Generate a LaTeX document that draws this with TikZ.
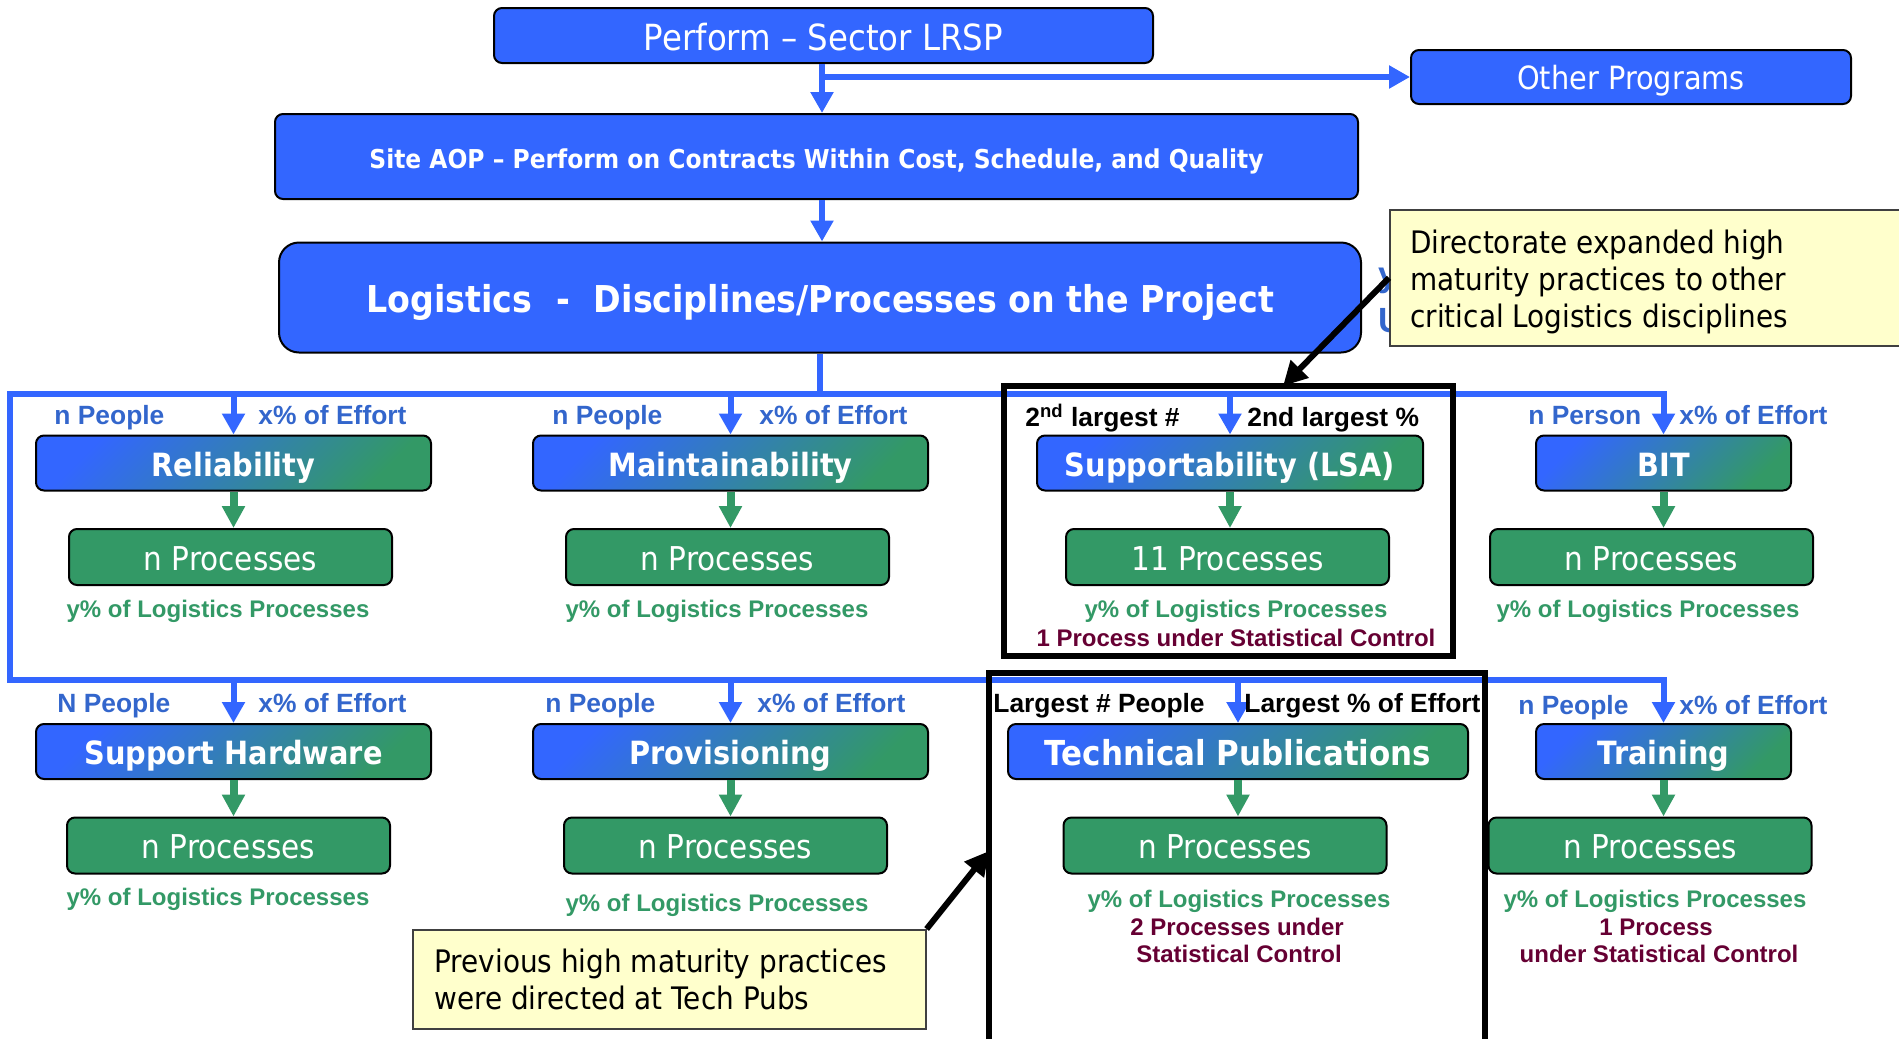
\documentclass[tikz,border=0pt]{standalone}
\usepackage{fontspec}
\setmainfont{DejaVu Sans}[FakeStretch=0.9]
\newfontfamily\labfont{Liberation Sans}
\usetikzlibrary{arrows.meta}
\definecolor{boxblue}{HTML}{3366FF}
\definecolor{boxgreen}{HTML}{339966}
\definecolor{labblue}{HTML}{3366CC}
\definecolor{ctrlmaroon}{HTML}{660033}
\definecolor{noteyellow}{HTML}{FFFFCC}
\newcommand\fsz[2]{\fontsize{#1}{#2}\selectfont}
\begin{document}
\begin{tikzpicture}[x=0.5pt, y=-0.5pt,
  plainbox/.style={draw=black, line width=1pt, fill=boxblue, rounded corners=4pt,
    text=white, inner sep=0pt, text depth=0pt},
  discbox/.style={draw=black, line width=1pt, rounded corners=4pt,
    top color=boxblue, bottom color=boxgreen, shading angle=45,
    text=white, font=\bfseries\fsz{16}{19}, minimum height=27.5pt, inner sep=0pt,
    text height=13pt, text depth=0pt},
  procbox/.style={draw=black, line width=1pt, rounded corners=4pt, fill=boxgreen,
    text=white, font=\fsz{16.4}{19}, minimum width=161.5pt, minimum height=28pt, inner sep=0pt,
    text height=13pt, text depth=0pt},
  lbl/.style={font=\labfont\bfseries\fsz{13.2}{15}, text=labblue, anchor=base west, inner sep=0pt},
  lblk/.style={lbl, text=black},
  capt/.style={font=\labfont\bfseries\fsz{12}{14}, text=boxgreen, anchor=base, inner sep=0pt},
  ctrl/.style={capt, text=ctrlmaroon},
  bus/.style={draw=boxblue, line width=3pt, line join=miter},
  busarrow/.style={bus, -{Triangle[width=11pt,length=10.5pt]}},
  garrow/.style={draw=boxgreen, line width=4pt, -{Triangle[width=11pt,length=11pt]}},
  frame/.style={draw=black, line width=2.8pt},
  note/.style={draw=black!75, line width=0.8pt, fill=noteyellow, inner sep=0pt},
  notetext/.style={font=\fsz{15.5}{18.5}, align=left, anchor=north west, inner sep=0pt},
  karrow/.style={draw=black, line width=3pt, -{Triangle[width=12pt,length=12pt]}},
  hidden/.style={font=\labfont\bfseries\fsz{17.5}{20}, text=labblue, anchor=base west, inner sep=0pt}
]
\useasboundingbox (0,0) rectangle (1899,1039);
\clip (0,0) rectangle (1899,1039);

% top of the hierarchy
\node[plainbox, minimum width=329.5pt, minimum height=27.5pt, font=\fsz{18}{21}, text height=15pt] (perf) at (823.5,35.5) {Perform – Sector LRSP};
\node[plainbox, minimum width=220pt, minimum height=27pt, font=\fsz{16}{19}, text height=12pt] (other) at (1631,77) {Other Programs};
\node[plainbox, minimum width=541.5pt, minimum height=42.5pt, font=\bfseries\fsz{13}{16}, text height=11.6pt] (site) at (816.5,156.5) {Site AOP – Perform on Contracts Within Cost, Schedule, and Quality};
\node[plainbox, rounded corners=10pt, minimum width=541pt, minimum height=55pt, font=\bfseries\fsz{18.5}{22}, text height=15.2pt] (logi) at (820,297.5) {Logistics\hspace{12pt}-\hspace{12pt}Disciplines/Processes on the Project};

% vertical spine of the upper part
\coordinate (spine) at (822,0);
\draw[busarrow] (spine |- perf.south) -- (spine |- site.north);
\draw[busarrow] (spine |- other.west) -- (other.west);
\draw[busarrow] (spine |- site.south) -- (spine |- logi.north);

% disciplines, first row
\node[discbox, minimum width=197.5pt] (rel) at (233.5,463) {Reliability};
\node[discbox, minimum width=197.5pt] (mai) at (730.5,463) {Maintainability};
\node[discbox, minimum width=193pt] (sup) at (1230,463) {Supportability (LSA)};
\node[discbox, minimum width=127.5pt] (bit) at (1663.5,463) {BIT};
\node[procbox] (relp) at (230.5,557) {n Processes};
\node[procbox] (maip) at (727.5,557) {n Processes};
\node[procbox] (supp) at (1227.5,557) {11 Processes};
\node[procbox] (bitp) at (1651.5,557) {n Processes};

% disciplines, second row
\node[discbox, minimum width=197.5pt] (sh) at (233.5,751.5) {Support Hardware};
\node[discbox, minimum width=197.5pt] (pro) at (730.5,751.5) {Provisioning};
\node[discbox, minimum width=230pt, font=\bfseries\fsz{17.2}{20}, text height=14pt] (tp) at (1238,751.5) {Technical Publications};
\node[discbox, minimum width=127.5pt] (tra) at (1663.5,751.5) {Training};
\node[procbox] (shp) at (228.5,845.5) {n Processes};
\node[procbox] (prop) at (725.5,845.5) {n Processes};
\node[procbox] (tpp) at (1225,845.5) {n Processes};
\node[procbox] (trap) at (1650,845.5) {n Processes};

% discipline to process arrows
\foreach \d/\p in {rel/relp, mai/maip, sup/supp, bit/bitp, sh/shp, pro/prop, tp/tpp, tra/trap}
  \draw[garrow] (\d.south) -- (\d.south |- \p.north);

% distribution bus
\coordinate (b1L) at (10,394);
\coordinate (b2L) at (10,680);
\coordinate (b1R) at (bit.north |- b1L);
\coordinate (b2R) at (tra.north |- b2L);
\draw[bus] (logi.south) -- (logi.south |- b1L);
\draw[busarrow] (b2L) -- (b1L) -- (b1R) -- (bit.north);
\draw[busarrow] (b1L) -- (b2L) -- (b2R) -- (tra.north);
\foreach \d in {rel, mai, sup}
  \draw[busarrow] (\d.north |- b1L) -- (\d.north);
\foreach \d in {sh, pro, tp}
  \draw[busarrow] (\d.north |- b2L) -- (\d.north);

% staffing labels, first row
\node[lbl] (relN) at (54,424) {n People};
\node[lbl] (relX) at (258,424) {x\% of Effort};
\node[lbl] (maiN) at (552,424) {n People};
\node[lbl] (maiX) at (759,424) {x\% of Effort};
\node[lblk] (supN) at (1025,426) {2\textsuperscript{nd} largest \#};
\node[lblk] (supX) at (1247,426) {2nd largest \%};
\node[lbl] (bitN) at (1528,424) {n Person};
\node[lbl] (bitX) at (1679,424) {x\% of Effort};

% staffing labels, second row
\node[lbl] (shN) at (57,712) {N People};
\node[lbl] (shX) at (258,712) {x\% of Effort};
\node[lbl] (proN) at (545,712) {n People};
\node[lbl] (proX) at (757,712) {x\% of Effort};
\node[lblk] (tpN) at (993,712) {Largest \# People};
\node[lblk] (tpX) at (1244,712) {Largest \% of Effort};
\node[lbl] (traN) at (1518,714) {n People};
\node[lbl] (traX) at (1679,714) {x\% of Effort};

% process shares
\node[capt] (relc) at (218,617) {y\% of Logistics Processes};
\node[capt] (maic) at (717,617) {y\% of Logistics Processes};
\node[capt] (supc) at (1236,617) {y\% of Logistics Processes};
\node[ctrl] (supm) at (1236,646) {1 Process under Statistical Control};
\node[capt] (bitc) at (1648,617) {y\% of Logistics Processes};
\node[capt] (shc) at (218,905) {y\% of Logistics Processes};
\node[capt] (proc) at (717,911) {y\% of Logistics Processes};
\node[capt] (tpc) at (1239,907) {y\% of Logistics Processes};
\node[ctrl] (tpm1) at (1237,935) {2 Processes under};
\node[ctrl] (tpm2) at (1239,962) {Statistical Control};
\node[capt] (trac) at (1655,907) {y\% of Logistics Processes};
\node[ctrl] (tram1) at (1656,935) {1 Process};
\node[ctrl] (tram2) at (1659,962) {under Statistical Control};

% highlight frames
\draw[frame] (1004,386) rectangle (1453,656);
\draw[frame] (989,1039) -- (989,673) -- (1485,673) -- (1485,1039);
\coordinate (supHit) at (1283,386);
\coordinate (tpHit) at (989,851);

% notes
\node[hidden] (hy) at (1378,286) {y};
\node[hidden] (hu) at (1378,332) {U};
\node[note, anchor=north west, minimum width=258pt, minimum height=68pt] (call1) at (1389,209) {};
\node[notetext] (call1t) at (1410,230) {Directorate expanded high\\maturity practices to other\\critical Logistics disciplines};
\node[note, anchor=north west, minimum width=256.5pt, minimum height=49.5pt] (call2) at (412,929) {};
\node[notetext] (call2t) at (434,949) {Previous high maturity practices\\were directed at Tech Pubs};
\draw[karrow] (call1.west) -- (supHit);
\draw[karrow] (call2.north east) -- (tpHit);
\end{tikzpicture}
\end{document}
